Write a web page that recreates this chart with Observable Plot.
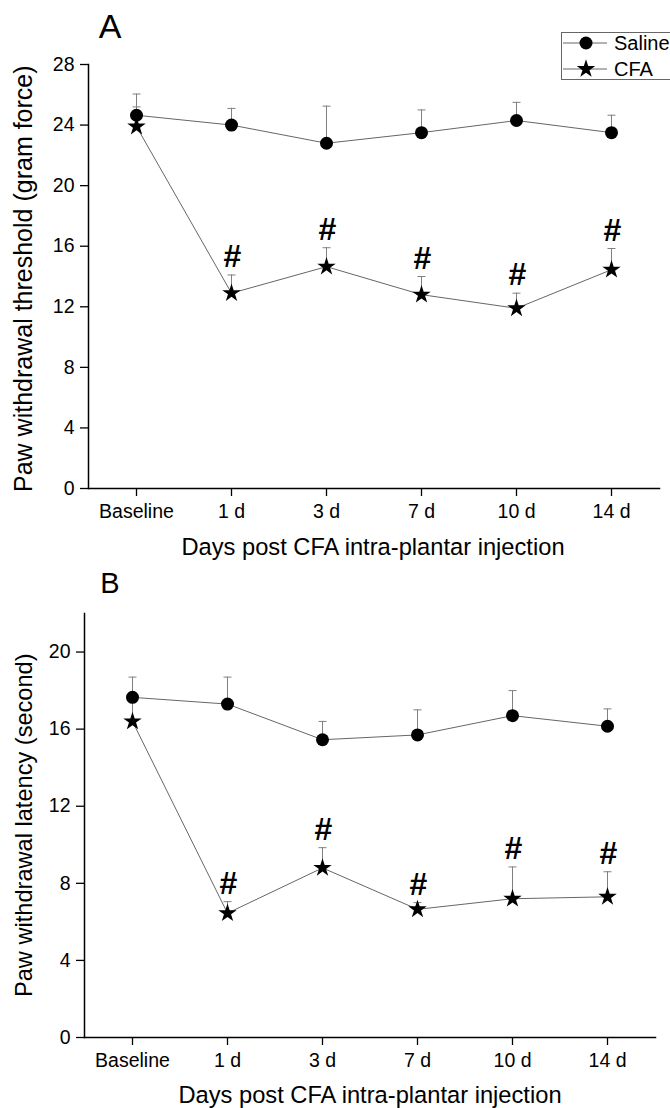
<!DOCTYPE html>
<html>
<head>
<meta charset="utf-8">
<script src="https://cdn.jsdelivr.net/npm/d3@7"></script>
<script src="https://cdn.jsdelivr.net/npm/@observablehq/plot@0.6"></script>
<style>
  html, body { margin: 0; padding: 0; background: #fff; }
  #wrap { position: relative; width: 670px; height: 1108px; overflow: hidden; font-family: "Liberation Sans", Arial, sans-serif; }
  #wrap > svg { position: absolute; left: 0; }
  #overlay { position: absolute; left: 0; top: 0; pointer-events: none; }
</style>
</head>
<body>
<div id="wrap"></div>
<script>
// ---- data ----
const days = ["Baseline", "1 d", "3 d", "7 d", "10 d", "14 d"];
const salineThreshold    = [24.65, 24.0, 22.8, 23.5, 24.3, 23.5];
const salineThresholdSem = [1.4, 1.1, 2.45, 1.5, 1.2, 1.15];
const cfaThreshold       = [23.9, 12.9, 14.65, 12.8, 11.9, 14.45];
const cfaThresholdSem    = [1.3, 1.2, 1.25, 1.2, 1.0, 1.4];
const salineLatency      = [17.65, 17.3, 15.45, 15.7, 16.7, 16.15];
const salineLatencySem   = [1.05, 1.4, 0.95, 1.3, 1.3, 0.9];
const cfaLatency         = [16.4, 6.45, 8.8, 6.65, 7.2, 7.3];
const cfaLatencySem      = [1.1, 0.6, 1.05, 0.35, 1.65, 1.3];
const cfaSignificant     = [false, true, true, true, true, true];
const thresholdTicks = [0, 4, 8, 12, 16, 20, 24, 28];
const latencyTicks   = [0, 4, 8, 12, 16, 20];
const seriesNames = ["Saline", "CFA"];
const xTitle = "Days post CFA intra-plantar injection";
const yTitleA = "Paw withdrawal threshold (gram force)";
const yTitleB = "Paw withdrawal latency (second)";

const FONT = '"Liberation Sans", Arial, Helvetica, sans-serif';
const STAR_R = 5.8;
const DOT_R = 6.5;

function rows(values, sems, sig) {
  return days.map((d, i) => ({day: d, value: values[i], top: values[i] + sems[i], sig: sig ? sig[i] : false}));
}

const capSymbol = {draw(ctx) { ctx.moveTo(-4, 0); ctx.lineTo(4, 0); }};

function panel({saline, cfa, domain, ticks, height, mt, mb, ml, mr}) {
  return Plot.plot({
    width: 670, height, marginTop: mt, marginBottom: mb, marginLeft: ml, marginRight: mr,
    style: {fontFamily: FONT, background: "transparent", overflow: "visible"},
    x: {type: "point", domain: days, padding: 0.5, axis: null},
    y: {domain, axis: null},
    marks: [
      Plot.axisY({ticks, tickSize: 8, tickPadding: 6, fontSize: 19.5, label: null, strokeWidth: 1.3}),
      Plot.axisX({tickSize: 8, tickPadding: 8, fontSize: 19.5, label: null, strokeWidth: 1.3}),
      Plot.frame({anchor: "left", strokeWidth: 1.5}),
      Plot.frame({anchor: "bottom", strokeWidth: 1.5}),
      Plot.line(saline, {x: "day", y: "value", stroke: "#666", strokeWidth: 1}),
      Plot.line(cfa, {x: "day", y: "value", stroke: "#666", strokeWidth: 1}),
      Plot.ruleX(saline, {x: "day", y1: "value", y2: "top", stroke: "#808080", strokeWidth: 1}),
      Plot.ruleX(cfa, {x: "day", y1: "value", y2: "top", stroke: "#808080", strokeWidth: 1}),
      Plot.dot(saline, {x: "day", y: "top", symbol: capSymbol, stroke: "#808080", strokeWidth: 1, r: 4}),
      Plot.dot(cfa, {x: "day", y: "top", symbol: capSymbol, stroke: "#808080", strokeWidth: 1, r: 4}),
      Plot.dot(saline, {x: "day", y: "value", symbol: "circle", r: DOT_R, fill: "black", stroke: null}),
      Plot.dot(cfa, {x: "day", y: "value", symbol: "star", r: STAR_R, fill: "black", stroke: null}),
      Plot.text(cfa.filter(d => d.sig), {x: "day", y: "top", text: () => "#", dy: -18, dx: 1, fontSize: 32, fontWeight: "bold", fill: "black"})
    ]
  });
}

const wrap = document.getElementById("wrap");

const plotA = panel({
  saline: rows(salineThreshold, salineThresholdSem),
  cfa: rows(cfaThreshold, cfaThresholdSem, cfaSignificant),
  domain: [0, 28], ticks: thresholdTicks,
  height: 560, mt: 64, mb: 72, ml: 88, mr: 11
});
plotA.style.top = "0px";
wrap.appendChild(plotA);

const plotB = panel({
  saline: rows(salineLatency, salineLatencySem),
  cfa: rows(cfaLatency, cfaLatencySem, cfaSignificant),
  domain: [0, 22], ticks: latencyTicks,
  height: 548, mt: 53, mb: 71, ml: 84, mr: 15
});
plotB.style.top = "560px";
wrap.appendChild(plotB);

// ---- overlay: panel letters, axis titles, legend ----
const ov = d3.select(wrap).append("svg").attr("id", "overlay")
  .attr("width", 670).attr("height", 1108)
  .style("font-family", FONT);

ov.append("text").attr("x", 110).attr("y", 38).attr("text-anchor", "middle").attr("font-size", 34).text("A");
ov.append("text").attr("x", 110).attr("y", 593).attr("text-anchor", "middle").attr("font-size", 29).text("B");

ov.append("text").attr("x", 373).attr("y", 555).attr("text-anchor", "middle").attr("font-size", 23.7).text(xTitle);
ov.append("text").attr("x", 370).attr("y", 1103).attr("text-anchor", "middle").attr("font-size", 23.7).text(xTitle);

ov.append("text").attr("transform", "translate(32,492) rotate(-90)").attr("text-anchor", "start").attr("font-size", 25).text(yTitleA);
ov.append("text").attr("transform", "translate(32,997) rotate(-90)").attr("text-anchor", "start").attr("font-size", 23.6).text(yTitleB);

// legend
const lg = ov.append("g");
lg.append("rect").attr("x", 561.5).attr("y", 32.5).attr("width", 130).attr("height", 47)
  .attr("fill", "none").attr("stroke", "#666").attr("stroke-width", 1);
const legendRows = [{name: seriesNames[0], sym: d3.symbolCircle, r: DOT_R, y: 43}, {name: seriesNames[1], sym: d3.symbolStar, r: STAR_R, y: 69}];
legendRows.forEach(row => {
  lg.append("line").attr("x1", 563).attr("x2", 607).attr("y1", row.y).attr("y2", row.y).attr("stroke", "#666").attr("stroke-width", 1);
  lg.append("path").attr("transform", `translate(586,${row.y})`)
    .attr("d", d3.symbol(row.sym, Math.PI * row.r * row.r)()).attr("fill", "black");
  lg.append("text").attr("x", 614).attr("y", row.y).attr("dy", "0.35em").attr("font-size", 20).text(row.name);
});
</script>
</body>
</html>
